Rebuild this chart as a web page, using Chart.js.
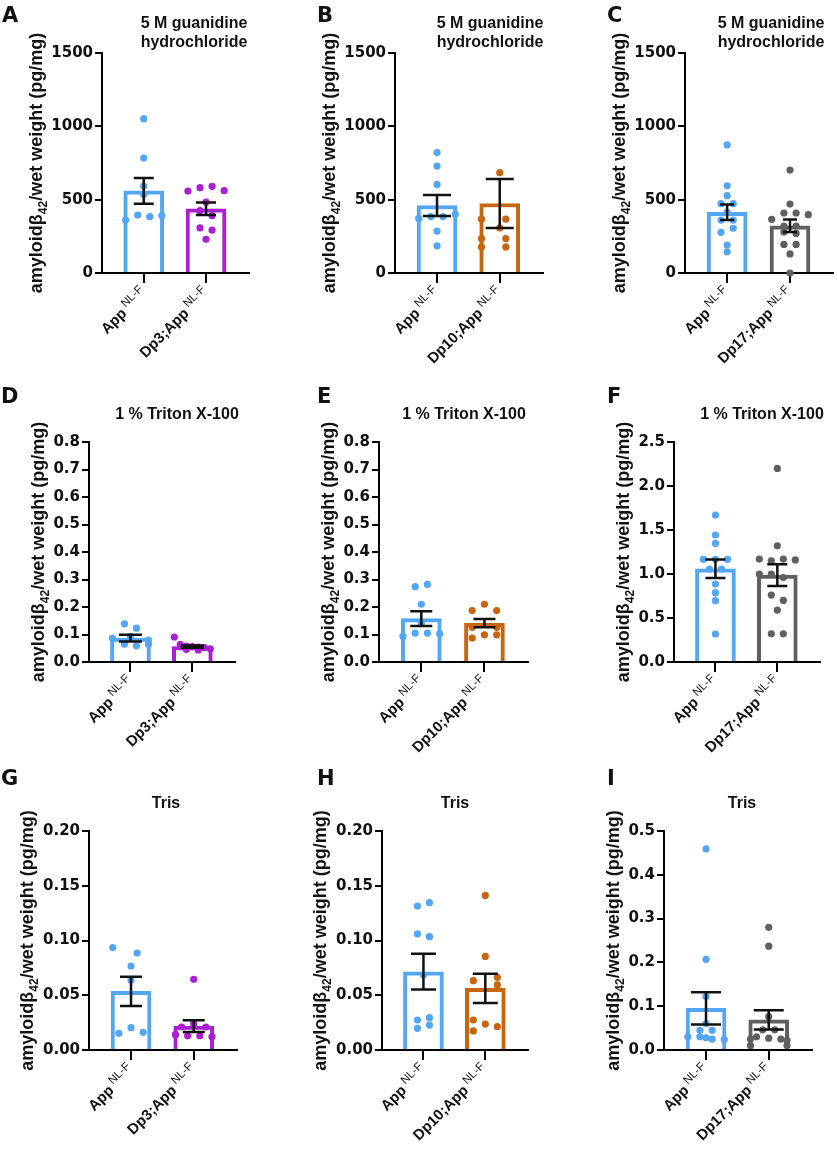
<!DOCTYPE html>
<html>
<head>
<meta charset="utf-8">
<script src="https://cdn.jsdelivr.net/npm/chart.js@4.4.1/dist/chart.umd.min.js"></script>
<style>
  html, body { margin: 0; padding: 0; background: #fff; }
  #fig { position: relative; width: 837px; height: 1152px; overflow: hidden; }
  .panel { position: absolute; }
</style>
</head>
<body>
<div id="fig"></div>
<script>
/* ---- data ---- */
var groupNames = [['App', 'Dp3;App'], ['App', 'Dp10;App'], ['App', 'Dp17;App']];
var groupSup = 'NL-F';
var titleGua = ['5 M guanidine', 'hydrochloride'];
var titleTriton = ['1 % Triton X-100'];
var titleTris = ['Tris'];

// A: 5 M GuHCl, Dp3
var aApp = [1052, 784, 593, 536, 395, 384, 391, 361];
var aAppJit = [0, 0, 0, 0, -1, 1, 3, -3];
var aDp = [559, 582, 591, 561, 484, 425, 391, 307, 293, 230];
var aDpJit = [-3, -1, 1, 3, 0, -1, 1, -1, 1, 0];
var aMean = [560, 438];
var aSem = [87, 42];

// B: 5 M GuHCl, Dp10
var bApp = [821, 729, 604, 372, 385, 385, 400, 285, 185];
var bAppJit = [0, 0, 0, -3, -1, 1, 3, 0, 0];
var bDp = [684, 367, 367, 308, 235, 235, 178, 178];
var bDpJit = [0, -3, 1, 0, -3, 1, -3, 1];
var bMean = [460, 474];
var bSem = [72, 167];

// C: 5 M GuHCl, Dp17
var cApp = [873, 595, 527, 473, 473, 414, 361, 361, 305, 277, 191, 145];
var cAppJit = [0, 0, 0, -1, 1, 0, -1, 1, 1, -1, 0, 0];
var cDp = [702, 470, 409, 409, 398, 366, 320, 320, 280, 270, 195, 195, 130, 0];
var cDpJit = [0, 0, -1, 1, 3, -3, -1, 1, -1, 1, -1, 1, 0, 0];
var cMean = [414, 322];
var cSem = [53, 43];

// D: Triton, Dp3
var dApp = [0.139, 0.123, 0.093, 0.086, 0.080, 0.065, 0.065, 0.059];
var dAppJit = [-1, 1, 0, -3, 3, -1, 3, 1];
var dDp = [0.091, 0.064, 0.058, 0.056, 0.054, 0.052, 0.048, 0.046, 0.044];
var dDpJit = [-3, -2, -1, 0, 1, 2, 3, -1, 1];
var dMean = [0.087, 0.056];
var dSem = [0.012, 0.004];

// E: Triton, Dp10
var eApp = [0.282, 0.274, 0.210, 0.141, 0.105, 0.105, 0.103, 0.093];
var eAppJit = [1, -1, 0, 0, -1, 1, 3, -3];
var eDp = [0.210, 0.187, 0.187, 0.126, 0.126, 0.099, 0.099, 0.087];
var eDpJit = [0, -2, 2, -2, 2, 0, 2, -2];
var eMean = [0.158, 0.141];
var eSem = [0.027, 0.015];

// F: Triton, Dp17
var fApp = [1.670, 1.443, 1.348, 1.167, 1.167, 1.167, 1.057, 1.057, 0.886, 0.788, 0.697, 0.318];
var fAppJit = [0, 0, 0, -2, 0, 2, -1, 1, 0, 0, 0, 0];
var fDp = [2.20, 1.32, 1.17, 1.15, 1.17, 1.16, 1.00, 1.00, 0.96, 0.76, 0.70, 0.59, 0.32, 0.32];
var fDpJit = [0, 0, -3, -1, 1, 3, -3, -1, 1, -1, 1, 0, -1, 1];
var fMean = [1.06, 0.987];
var fSem = [0.105, 0.123];

// G: Tris, Dp3
var gApp = [0.0935, 0.0886, 0.0767, 0.0639, 0.0152, 0.0204, 0.0161];
var gAppJit = [-3, 1, 0, 0, -2, 0, 2];
var gDp = [0.0645, 0.024, 0.021, 0.021, 0.014, 0.013, 0.013, 0.012];
var gDpJit = [0, 0, -2, 2, -3, -1, 1, 3];
var gMean = [0.0535, 0.0218];
var gSem = [0.0133, 0.0053];

// H: Tris, Dp10
var hApp = [0.1345, 0.1315, 0.106, 0.1035, 0.0685, 0.0295, 0.0274, 0.0228, 0.0198];
var hAppJit = [1, -1, -1, 1, 0, 1, -1, 1, -1];
var hDp = [0.1412, 0.0855, 0.0664, 0.0633, 0.0594, 0.0274, 0.0237, 0.0213, 0.0174];
var hDpJit = [0, 0, 2, -2, 2, -2, 0, 2, -2];
var hMean = [0.0715, 0.0563];
var hSem = [0.0163, 0.0134];

// I: Tris, Dp17
var iApp = [0.459, 0.207, 0.122, 0.060, 0.045, 0.045, 0.030, 0.030, 0.028, 0.025, 0.024];
var iAppJit = [0, 0, 0, 0, -1, 1, -3, -1, 0, 1, 3];
var iDp = [0.280, 0.237, 0.076, 0.046, 0.046, 0.030, 0.027, 0.025, 0.025, 0.022, 0.010, 0.010];
var iDpJit = [0, 0, 0, -1, 1, -2, 0, 2, -3, 3, -3, 3];
var iMean = [0.095, 0.069];
var iSem = [0.037, 0.022];

/* ---- styling ---- */
var BLUE = '#53a6f3';
var PURPLE = '#a91fd3';
var ORANGE = '#c8650f';
var GREY = '#5f5f5f';
var INK = '#111';
var JIT = 0.097;          // one jitter step in category units
var TICK_FONT = { family: 'DejaVu Sans', weight: 'bold', size: 15 };

var panels = [
  { letter: 'A', letterAt: [2, 22],   box: [0, 0, 279, 365],     plot: [102, 53, 249, 273],  title: titleGua,    titleAt: [194, 24], names: groupNames[0], color: PURPLE, app: aApp, appJit: aAppJit, dp: aDp, dpJit: aDpJit, mean: aMean, sem: aSem, yMax: 1500, yStep: 500, dec: 0, cap: 20 },
  { letter: 'B', letterAt: [317, 22], box: [279, 0, 278, 365],   plot: [395, 53, 543, 273],  title: titleGua,    titleAt: [490, 24], names: groupNames[1], color: ORANGE, app: bApp, appJit: bAppJit, dp: bDp, dpJit: bDpJit, mean: bMean, sem: bSem, yMax: 1500, yStep: 500, dec: 0, cap: 28 },
  { letter: 'C', letterAt: [607, 22], box: [557, 0, 280, 365],   plot: [685, 53, 835, 273],  title: titleGua,    titleAt: [771, 24], names: groupNames[2], color: GREY,   app: cApp, appJit: cAppJit, dp: cDp, dpJit: cDpJit, mean: cMean, sem: cSem, yMax: 1500, yStep: 500, dec: 0, cap: 14 },
  { letter: 'D', letterAt: [1, 403],  box: [0, 365, 279, 400],   plot: [89, 442, 235, 662],  title: titleTriton, titleAt: [177, 415], names: groupNames[0], color: PURPLE, app: dApp, appJit: dAppJit, dp: dDp, dpJit: dDpJit, mean: dMean, sem: dSem, yMax: 0.8, yStep: 0.1, dec: 1, cap: 23 },
  { letter: 'E', letterAt: [317, 403], box: [279, 365, 278, 400], plot: [379, 442, 528, 662], title: titleTriton, titleAt: [464, 415], names: groupNames[1], color: ORANGE, app: eApp, appJit: eAppJit, dp: eDp, dpJit: eDpJit, mean: eMean, sem: eSem, yMax: 0.8, yStep: 0.1, dec: 1, cap: 22 },
  { letter: 'F', letterAt: [607, 403], box: [557, 365, 280, 400], plot: [674, 442, 820, 662], title: titleTriton, titleAt: [762, 415], names: groupNames[2], color: GREY,   app: fApp, appJit: fAppJit, dp: fDp, dpJit: fDpJit, mean: fMean, sem: fSem, yMax: 2.5, yStep: 0.5, dec: 1, cap: 20 },
  { letter: 'G', letterAt: [1, 785],  box: [0, 765, 279, 387],   plot: [89, 831, 237, 1050], title: titleTris,   titleAt: [166, 804], names: groupNames[0], color: PURPLE, app: gApp, appJit: gAppJit, dp: gDp, dpJit: gDpJit, mean: gMean, sem: gSem, yMax: 0.2, yStep: 0.05, dec: 2, cap: 22 },
  { letter: 'H', letterAt: [317, 785], box: [279, 765, 278, 387], plot: [382, 831, 528, 1050], title: titleTris,  titleAt: [455, 804], names: groupNames[1], color: ORANGE, app: hApp, appJit: hAppJit, dp: hDp, dpJit: hDpJit, mean: hMean, sem: hSem, yMax: 0.2, yStep: 0.05, dec: 2, cap: 25 },
  { letter: 'I', letterAt: [607, 785], box: [557, 765, 280, 387], plot: [664, 831, 812, 1050], title: titleTris,  titleAt: [742, 804], names: groupNames[2], color: GREY,   app: iApp, appJit: iAppJit, dp: iDp, dpJit: iDpJit, mean: iMean, sem: iSem, yMax: 0.5, yStep: 0.1, dec: 1, cap: 30 }
];

/* --- jittered points for one group --- */
function groupPoints(vals, jit, idx) {
  return vals.map(function (v, k) { return { x: idx + jit[k] * JIT, y: v }; });
}

/* --- mean +/- SEM whiskers --- */
function errorBarPlugin(p) {
  return {
    id: 'errbars' + p.letter,
    afterDatasetsDraw: function (chart) {
      var ctx = chart.ctx, xs = chart.scales.x, ys = chart.scales.y;
      ctx.save();
      ctx.strokeStyle = INK;
      ctx.lineWidth = 2.5;
      for (var i = 0; i < p.mean.length; i++) {
        var x = xs.getPixelForValue(i);
        var yHi = ys.getPixelForValue(p.mean[i] + p.sem[i]);
        var yLo = ys.getPixelForValue(p.mean[i] - p.sem[i]);
        ctx.beginPath();
        ctx.moveTo(x, yHi); ctx.lineTo(x, yLo);
        ctx.moveTo(x - p.cap / 2, yHi); ctx.lineTo(x + p.cap / 2, yHi);
        ctx.moveTo(x - p.cap / 2, yLo); ctx.lineTo(x + p.cap / 2, yLo);
        ctx.stroke();
      }
      ctx.restore();
    }
  };
}

/* --- letters, titles, axis title with subscript, rotated group labels --- */
function textPlugin(p) {
  return {
    id: 'texts' + p.letter,
    afterDraw: function (chart) {
      var ctx = chart.ctx, a = chart.chartArea, ox = p.box[0], oy = p.box[1];
      var xs = chart.scales.x, ys = chart.scales.y;
      ctx.save();
      ctx.fillStyle = INK;

      ctx.font = 'bold 21px "DejaVu Sans"';
      ctx.textAlign = 'left';
      ctx.textBaseline = 'alphabetic';
      ctx.fillText(p.letter, p.letterAt[0] - ox, p.letterAt[1] - oy);

      ctx.font = 'bold 16px "Liberation Sans"';
      ctx.textAlign = 'center';
      ctx.textBaseline = 'middle';
      for (var t = 0; t < p.title.length; t++) {
        ctx.fillText(p.title[t], p.titleAt[0] - ox, p.titleAt[1] - oy + t * 19);
      }

      // y axis title sits left of the widest tick label
      ctx.font = 'bold 15px "DejaVu Sans"';
      var tw = 0;
      ys.ticks.forEach(function (tk) { tw = Math.max(tw, ctx.measureText(tk.label).width); });
      var segs = [
        { s: 'amyloidβ', f: 'bold 18px "Liberation Sans"', dy: 0 },
        { s: '42', f: 'bold 12px "Liberation Sans"', dy: 5 },
        { s: '/wet weight (pg/mg)', f: 'bold 18px "Liberation Sans"', dy: 0 }
      ];
      var total = 0;
      segs.forEach(function (sg) { ctx.font = sg.f; sg.w = ctx.measureText(sg.s).width; total += sg.w; });
      ctx.save();
      ctx.translate(a.left - 9 - tw - 9.5, (a.top + a.bottom) / 2);
      ctx.rotate(-Math.PI / 2);
      ctx.textAlign = 'left';
      ctx.textBaseline = 'alphabetic';
      var cx = -total / 2;
      segs.forEach(function (sg) { ctx.font = sg.f; ctx.fillText(sg.s, cx, sg.dy); cx += sg.w; });
      ctx.restore();

      // group labels, rotated 45 degrees, ending under the tick
      for (var i = 0; i < p.names.length; i++) {
        var x = xs.getPixelForValue(i);
        ctx.save();
        ctx.translate(x + 4, a.bottom + 21);
        ctx.rotate(-Math.PI / 4);
        ctx.textAlign = 'right';
        ctx.textBaseline = 'alphabetic';
        ctx.font = '11.5px "Liberation Sans"';
        var w2 = ctx.measureText(groupSup).width;
        ctx.fillText(groupSup, 0, -6);
        ctx.font = 'bold 15px "Liberation Sans"';
        ctx.fillText(p.names[i], -w2 - 3, 0);
        ctx.restore();
      }
      ctx.restore();
    }
  };
}

function makePanel(p) {
  var cx = p.box[0], cy = p.box[1], cw = p.box[2], ch = p.box[3];
  var pl = p.plot[0], pt = p.plot[1], pr = p.plot[2], pb = p.plot[3];
  var div = document.createElement('div');
  div.className = 'panel';
  div.style.left = cx + 'px';
  div.style.top = cy + 'px';
  var cv = document.createElement('canvas');
  cv.width = cw; cv.height = ch;
  cv.style.width = cw + 'px'; cv.style.height = ch + 'px';
  div.appendChild(cv);
  document.getElementById('fig').appendChild(div);

  var dot = { pointRadius: 3.6, pointBorderWidth: 0, pointHoverRadius: 3.6, clip: false, order: 1 };

  new Chart(cv, {
    type: 'bar',
    data: {
      datasets: [
        Object.assign({ type: 'scatter', data: groupPoints(p.app, p.appJit, 0), pointBackgroundColor: BLUE }, dot),
        Object.assign({ type: 'scatter', data: groupPoints(p.dp, p.dpJit, 1), pointBackgroundColor: p.color }, dot),
        {
          type: 'bar',
          data: [{ x: 0, y: p.mean[0] }, { x: 1, y: p.mean[1] }],
          backgroundColor: '#fff',
          borderColor: [BLUE, p.color],
          borderWidth: 4,
          borderSkipped: 'start',
          barThickness: 40,
          order: 3
        }
      ]
    },
    options: {
      responsive: false,
      animation: false,
      devicePixelRatio: 1,
      layout: { padding: { left: 0, bottom: 0, top: pt - cy, right: cx + cw - pr } },
      plugins: { legend: { display: false }, tooltip: { enabled: false } },
      scales: {
        x: {
          type: 'linear',
          offset: false,
          min: -0.67,
          max: 1.69,
          afterBuildTicks: function (s) { s.ticks = [{ value: 0 }, { value: 1 }]; },
          afterFit: function (s) { s.height = cy + ch - pb; },
          ticks: { display: false },
          grid: { offset: false, drawOnChartArea: false, color: '#000', lineWidth: 2, tickLength: 10 },
          border: { color: '#000', width: 2 }
        },
        y: {
          min: 0,
          max: p.yMax,
          afterFit: function (s) { s.width = pl - cx; },
          ticks: {
            stepSize: p.yStep,
            font: TICK_FONT,
            color: INK,
            padding: 2,
            callback: function (v) { return Number(v).toFixed(p.dec); }
          },
          grid: { drawOnChartArea: false, color: '#000', lineWidth: 2, tickLength: 7 },
          border: { color: '#000', width: 2 }
        }
      }
    },
    plugins: [errorBarPlugin(p), textPlugin(p)]
  });
}

panels.forEach(makePanel);
</script>
</body>
</html>
